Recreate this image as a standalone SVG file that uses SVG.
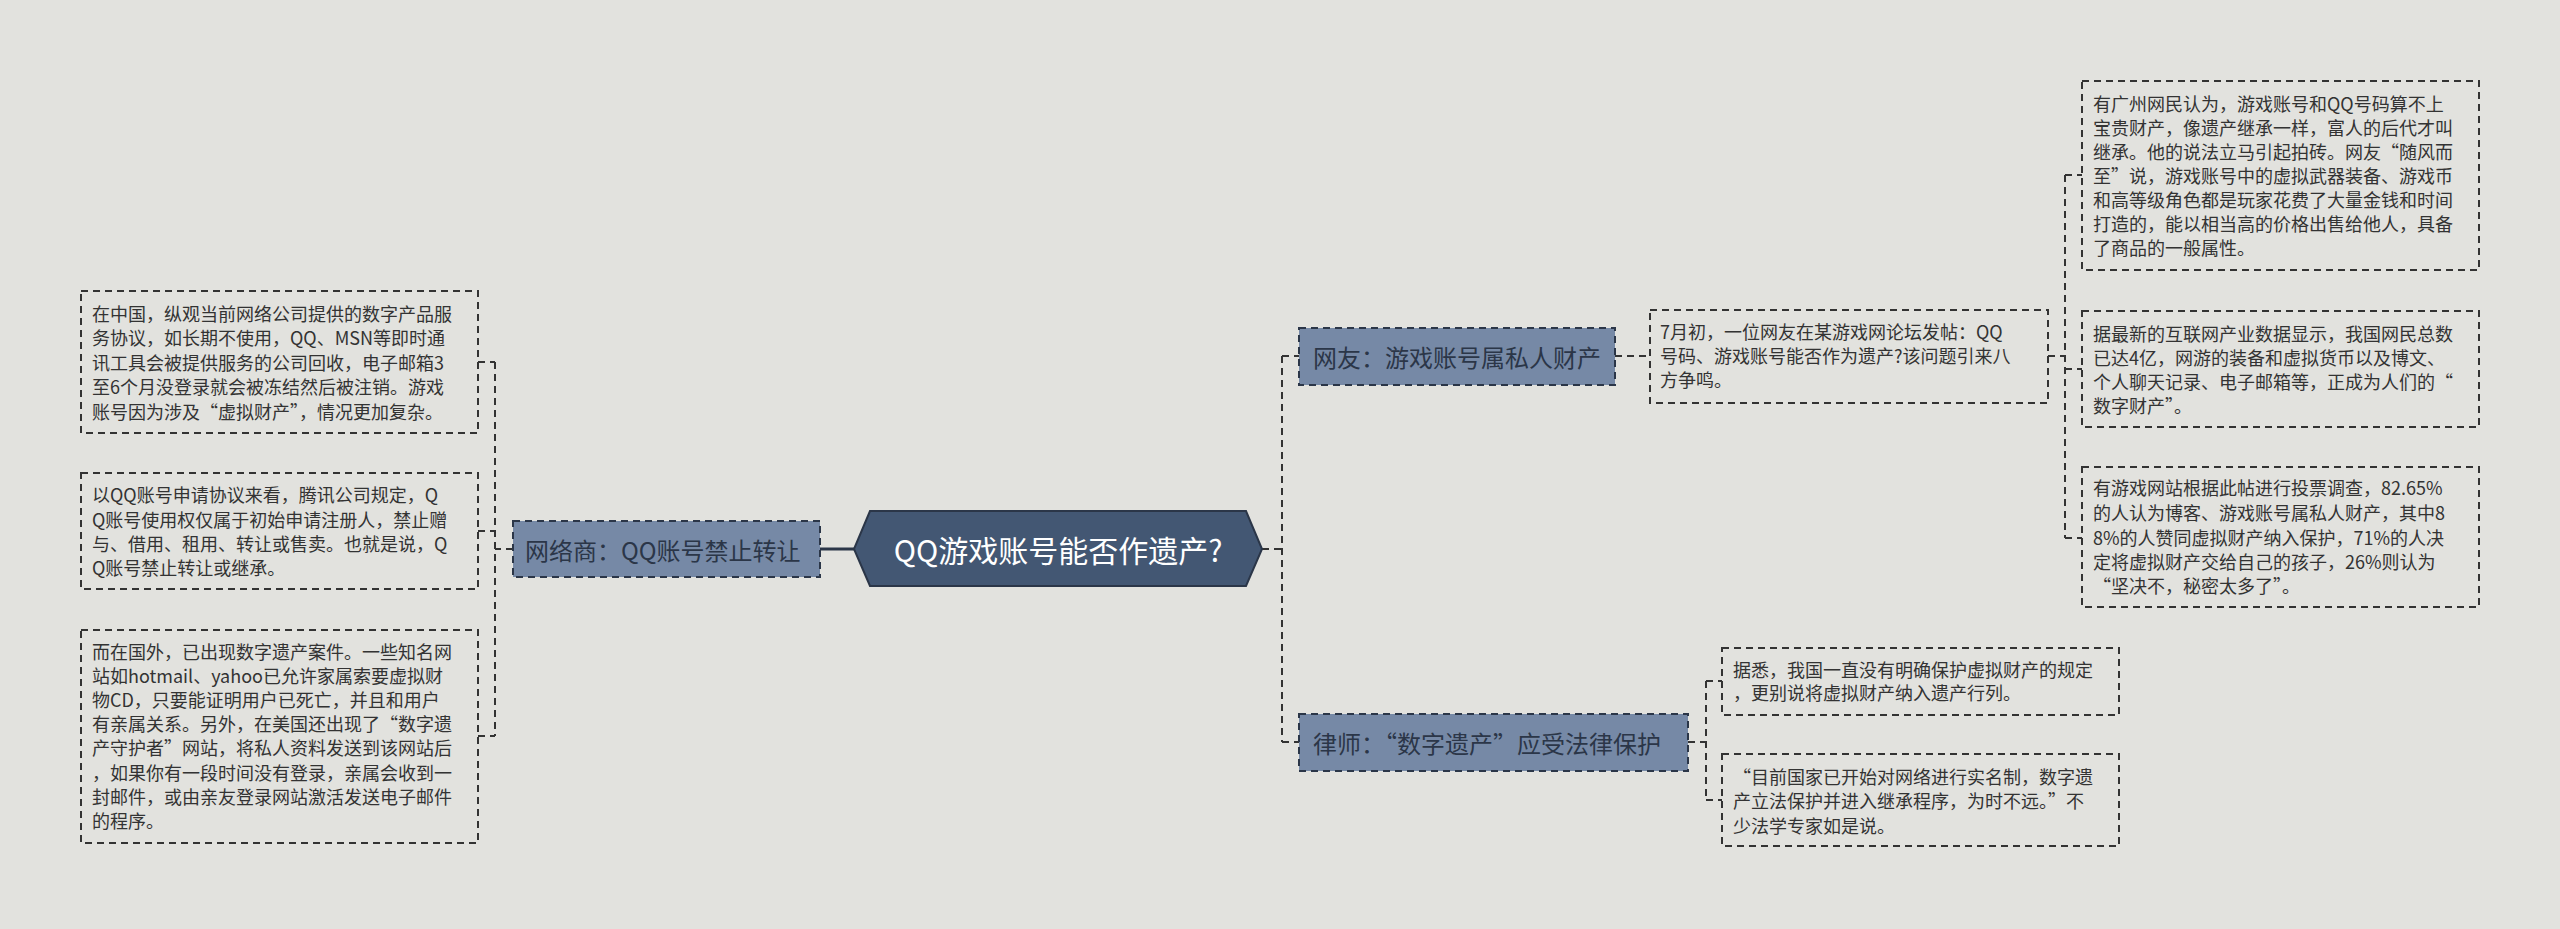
<svg xmlns="http://www.w3.org/2000/svg" width="2560" height="929" viewBox="0 0 2560 929">
<style>
.bg{fill:#e2e2de}
.leaf{fill:#e2e2de;stroke:#333;stroke-width:2;stroke-dasharray:7 5}
.sub{fill:#7689a6;stroke:#2b3648;stroke-width:2;stroke-dasharray:7 5}
.t{font-family:"Noto Sans CJK SC","Liberation Sans",sans-serif;font-size:18px;fill:#333}
.st{font-family:"Noto Sans CJK SC","Liberation Sans",sans-serif;font-size:24px;fill:#2b3648;dominant-baseline:central}
.c{fill:none;stroke:#333;stroke-width:2;stroke-dasharray:7 5}
</style>
<rect class="bg" width="2560" height="929"/>
<g id="connectors">
<path d="M820 549H854" fill="none" stroke="#2b3648" stroke-width="3"/>
<path class="c" d="M513 549H495M495 362V736M478 362H495M478 531H495M478 736H495"/>
<path class="c" d="M1262 549H1282M1282 356V742M1282 356H1299M1282 742H1299"/>
<path class="c" d="M1615 356H1650M2048 356H2065M2065 175V538M2065 175H2082M2065 369H2082M2065 538H2082"/>
<path class="c" d="M1688 742H1706M1706 681V800M1706 681H1722M1706 800H1722"/>
</g>
<g id="center">
<path d="M870 511H1246L1262 549L1246 586H870L854 549Z" fill="#435773" stroke="#2b3648" stroke-width="2"/>
<text x="1058" y="549" text-anchor="middle" dominant-baseline="central" font-family="Noto Sans CJK SC,Liberation Sans,sans-serif" font-size="30" fill="#fff">QQ游戏账号能否作遗产?</text>
</g>
<g id="n-wls">
<rect class="sub" x="513" y="521" width="307" height="56"/>
<text class="st" x="525" y="549">网络商：QQ账号禁止转让</text>
</g>
<g id="l1"><rect class="leaf" x="81" y="291" width="397" height="142"/>
<text class="t"><tspan x="92" y="321">在中国，纵观当前网络公司提供的数字产品服</tspan><tspan x="92" y="345">务协议，如长期不使用，QQ、MSN等即时通</tspan><tspan x="92" y="370">讯工具会被提供服务的公司回收，电子邮箱3</tspan><tspan x="92" y="394">至6个月没登录就会被冻结然后被注销。游戏</tspan><tspan x="92" y="419">账号因为涉及“虚拟财产”，情况更加复杂。</tspan></text></g>
<g id="l2"><rect class="leaf" x="81" y="473" width="397" height="116"/>
<text class="t"><tspan x="92" y="502">以QQ账号申请协议来看，腾讯公司规定，Q</tspan><tspan x="92" y="527">Q账号使用权仅属于初始申请注册人，禁止赠</tspan><tspan x="92" y="551">与、借用、租用、转让或售卖。也就是说，Q</tspan><tspan x="92" y="575">Q账号禁止转让或继承。</tspan></text></g>
<g id="l3"><rect class="leaf" x="81" y="630" width="397" height="213"/>
<text class="t"><tspan x="92" y="659">而在国外，已出现数字遗产案件。一些知名网</tspan><tspan x="92" y="683">站如hotmail、yahoo已允许家属索要虚拟财</tspan><tspan x="92" y="707">物CD，只要能证明用户已死亡，并且和用户</tspan><tspan x="92" y="731">有亲属关系。另外，在美国还出现了“数字遗</tspan><tspan x="92" y="755">产守护者”网站，将私人资料发送到该网站后</tspan><tspan x="92" y="780">，如果你有一段时间没有登录，亲属会收到一</tspan><tspan x="92" y="804">封邮件，或由亲友登录网站激活发送电子邮件</tspan><tspan x="92" y="828">的程序。</tspan></text></g>
<g id="n-wy">
<rect class="sub" x="1299" y="328" width="316" height="57"/>
<text class="st" x="1313" y="356">网友：游戏账号属私人财产</text>
</g>
<g id="r0"><rect class="leaf" x="1650" y="310" width="398" height="93"/>
<text class="t"><tspan x="1660" y="339">7月初，一位网友在某游戏网论坛发帖：QQ</tspan><tspan x="1660" y="363">号码、游戏账号能否作为遗产?该问题引来八</tspan><tspan x="1660" y="387">方争鸣。</tspan></text></g>
<g id="rA"><rect class="leaf" x="2082" y="81" width="397" height="189"/>
<text class="t"><tspan x="2093" y="111">有广州网民认为，游戏账号和QQ号码算不上</tspan><tspan x="2093" y="135">宝贵财产，像遗产继承一样，富人的后代才叫</tspan><tspan x="2093" y="159">继承。他的说法立马引起拍砖。网友“随风而</tspan><tspan x="2093" y="183">至”说，游戏账号中的虚拟武器装备、游戏币</tspan><tspan x="2093" y="207">和高等级角色都是玩家花费了大量金钱和时间</tspan><tspan x="2093" y="231">打造的，能以相当高的价格出售给他人，具备</tspan><tspan x="2093" y="255">了商品的一般属性。</tspan></text></g>
<g id="rB"><rect class="leaf" x="2082" y="311" width="397" height="116"/>
<text class="t"><tspan x="2093" y="341">据最新的互联网产业数据显示，我国网民总数</tspan><tspan x="2093" y="365">已达4亿，网游的装备和虚拟货币以及博文、</tspan><tspan x="2093" y="389">个人聊天记录、电子邮箱等，正成为人们的“</tspan><tspan x="2093" y="413">数字财产”。</tspan></text></g>
<g id="rC"><rect class="leaf" x="2082" y="467" width="397" height="140"/>
<text class="t"><tspan x="2093" y="495">有游戏网站根据此帖进行投票调查，82.65%</tspan><tspan x="2093" y="520">的人认为博客、游戏账号属私人财产，其中8</tspan><tspan x="2093" y="545">8%的人赞同虚拟财产纳入保护，71%的人决</tspan><tspan x="2093" y="569">定将虚拟财产交给自己的孩子，26%则认为</tspan><tspan x="2093" y="593">“坚决不，秘密太多了”。</tspan></text></g>
<g id="n-ls">
<rect class="sub" x="1299" y="714" width="389" height="57"/>
<text class="st" x="1313" y="742">律师：“数字遗产”应受法律保护</text>
</g>
<g id="lw1"><rect class="leaf" x="1722" y="648" width="397" height="67"/>
<text class="t"><tspan x="1733" y="677">据悉，我国一直没有明确保护虚拟财产的规定</tspan><tspan x="1733" y="700">，更别说将虚拟财产纳入遗产行列。</tspan></text></g>
<g id="lw2"><rect class="leaf" x="1722" y="754" width="397" height="92"/>
<text class="t"><tspan x="1733" y="784">“目前国家已开始对网络进行实名制，数字遗</tspan><tspan x="1733" y="808">产立法保护并进入继承程序，为时不远。”不</tspan><tspan x="1733" y="833">少法学专家如是说。</tspan></text></g>
</svg>
